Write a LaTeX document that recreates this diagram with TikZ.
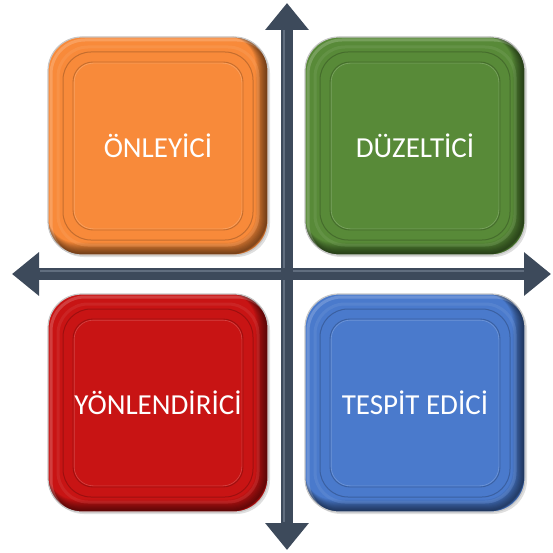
\documentclass[tikz,border=0pt]{standalone}
\usepackage{fontspec}
\setmainfont{Carlito}
\usetikzlibrary{arrows.meta,shadows}
\definecolor{axiscol}{HTML}{3D4A5B}
\definecolor{axislight}{HTML}{6B7789}
\definecolor{c_orange}{HTML}{F88A3A}
\definecolor{c_green}{HTML}{588A38}
\definecolor{c_red}{HTML}{C81414}
\definecolor{c_blue}{HTML}{4A7ACC}
% rounded rectangle inset from the path picture box, moved by a shift
\newcommand\qring[3]{% inset, xshift, yshift
  ([shift={(#1+#2,-#1+#3)}]path picture bounding box.north west) rectangle
  ([shift={(-#1+#2,#1+#3)}]path picture bounding box.south east)}
\tikzset{
  axis/.style={line width=12pt, draw=axiscol,
    {Triangle[width=42pt,length=27pt]}-{Triangle[width=42pt,length=27pt]}},
  axishi/.style={line width=1.6pt, draw=axislight, opacity=0.8},
  quad/.style={rounded corners=34pt, minimum width=220pt, minimum height=218pt,
    text=white, font=\fontsize{29}{32}\selectfont,
    fill=#1, draw=black!22, line width=1.2pt,
    drop shadow={opacity=0.25, shadow xshift=2pt, shadow yshift=-2pt},
    path picture={
      % soft inner shade along the lower right edge
      \foreach \w in {1,...,12}{
        \pgfmathsetmacro\s{\w/2+0.4}
        \draw[black, line width=\w pt, opacity=0.06, rounded corners=34pt]
          \qring{0pt}{-\s pt}{\s pt};
      }
      % light band on the upper left
      \draw[white, line width=3pt, opacity=0.18, rounded corners=34pt]
        \qring{0pt}{3pt}{-3pt};
      % bevel ring
      \draw[#1!80!white, line width=3pt, opacity=0.35, rounded corners=30pt]
        \qring{10pt}{0pt}{0pt};
      \draw[#1!70!black, line width=1pt, opacity=0.7, rounded corners=28pt]
        \qring{15pt}{0pt}{0pt};
      % inner panel
      \draw[#1!65!black, line width=0.9pt, opacity=0.6, rounded corners=20pt]
        \qring{25pt}{0pt}{0pt};
      \draw[#1!60!white, line width=0.6pt, opacity=0.5, rounded corners=19pt]
        \qring{26.2pt}{0pt}{0pt};
    }},
}
\begin{document}
\begin{tikzpicture}[x=1pt,y=-1pt]
\useasboundingbox (0,0) rectangle (552,553);
% axes
\coordinate (top) at (287,3);
\coordinate (bottom) at (287,550);
\coordinate (left) at (12,274);
\coordinate (right) at (551,274);
\draw[axis] (left) -- (right);
\draw[axis] (top) -- (bottom);
\draw[axishi] (40,271) -- (281,271);
\draw[axishi] (293,271) -- (524,271);
\draw[axishi] (284,30) -- (284,268);
\draw[axishi] (284,280) -- (284,522);
% quadrants
\node[quad=c_orange] (prev) at (158,146) {ÖNLEYİCİ};
\node[quad=c_green]  (corr) at (415,146) {DÜZELTİCİ};
\node[quad=c_red]    (dir)  at (158,403) {YÖNLENDİRİCİ};
\node[quad=c_blue]   (det)  at (415,403) {TESPİT EDİCİ};
\end{tikzpicture}
\end{document}
